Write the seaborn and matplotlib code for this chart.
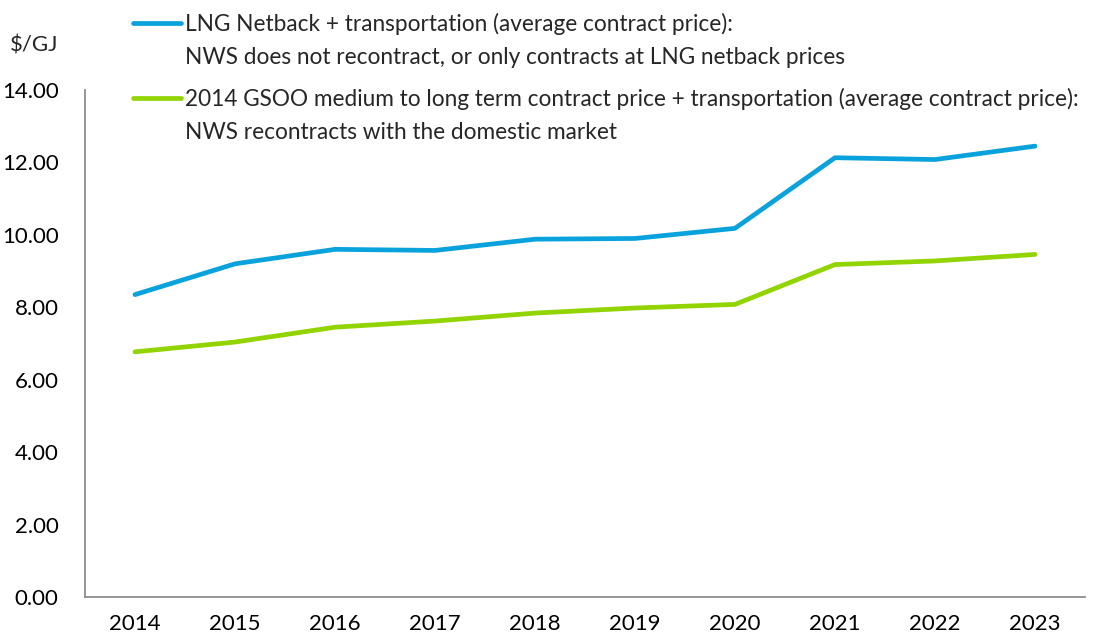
import matplotlib
matplotlib.use("Agg")
import matplotlib.pyplot as plt
from matplotlib.lines import Line2D
import seaborn as sns
import pandas as pd

years = ["2014", "2015", "2016", "2017", "2018", "2019", "2020", "2021", "2022", "2023"]
lng_netback = [8.35, 9.20, 9.60, 9.57, 9.88, 9.90, 10.18, 12.13, 12.08, 12.45]
gsoo_contract = [6.77, 7.04, 7.45, 7.62, 7.84, 7.98, 8.08, 9.18, 9.28, 9.46]

label_lng = ("LNG Netback + transportation (average contract price):\n"
             "NWS does not recontract, or only contracts at LNG netback prices")
label_gsoo = ("2014 GSOO medium to long term contract price + transportation (average contract price):\n"
              "NWS recontracts with the domestic market")

blue = "#0AA2DC"
green = "#92D400"
axis_grey = "#8C8C8C"
FS = 16

sns.set_theme(style="white")
plt.rcParams["font.family"] = ["Lato", "DejaVu Sans"]

df = pd.DataFrame({
    "pos": list(range(len(years))) * 2,
    "value": lng_netback + gsoo_contract,
    "series": [label_lng] * len(years) + [label_gsoo] * len(years),
})

W, H = 1096, 637
fig = plt.figure(figsize=(W / 100, H / 100), dpi=100)
ax = fig.add_axes([85 / W, 1 - 597 / H, 1000 / W, (597 - 90) / H])

sns.lineplot(data=df, x="pos", y="value", hue="series",
             palette={label_lng: blue, label_gsoo: green},
             linewidth=3.4, legend=False, ax=ax, solid_capstyle="round")

ax.set_xlim(-0.5, len(years) - 0.5)
ax.set_ylim(0, 14)
ax.set_yticks([0, 2, 4, 6, 8, 10, 12, 14])
ax.set_yticklabels([f"{v:.2f}" for v in ax.get_yticks()], fontsize=FS)

# category labels centred, tick marks at category boundaries
ax.set_xticks(range(len(years)))
ax.set_xticklabels(years, fontsize=FS)
ax.set_xticks([i - 0.5 for i in range(len(years) + 1)], minor=True)
ax.tick_params(axis="x", which="major", length=0, pad=12, labelcolor="black")
ax.tick_params(axis="x", which="minor", length=6, width=1.3, color=axis_grey, direction="out")
ax.tick_params(axis="y", which="major", length=7, width=1.3, color=axis_grey,
               direction="out", pad=12, labelcolor="black")

for side in ["top", "right"]:
    ax.spines[side].set_visible(False)
for side in ["left", "bottom"]:
    ax.spines[side].set_color(axis_grey)
    ax.spines[side].set_linewidth(1.3)

ax.set_xlabel("")
ax.set_ylabel("")

fig.text(10 / W, 1 - 45 / H, "$/GJ", fontsize=FS, va="center", ha="left")

# legend drawn above the plot area
for (y_line, color, label) in [(23, blue, label_lng), (98, green, label_gsoo)]:
    fig.add_artist(Line2D([133 / W, 181 / W], [1 - y_line / H, 1 - y_line / H],
                          color=color, linewidth=3.4, solid_capstyle="round",
                          transform=fig.transFigure))
    fig.text(185 / W, 1 - (y_line - 10) / H, label, fontsize=16.3,
             va="top", ha="left", linespacing=1.68)

fig.savefig("out.png", dpi=100)
